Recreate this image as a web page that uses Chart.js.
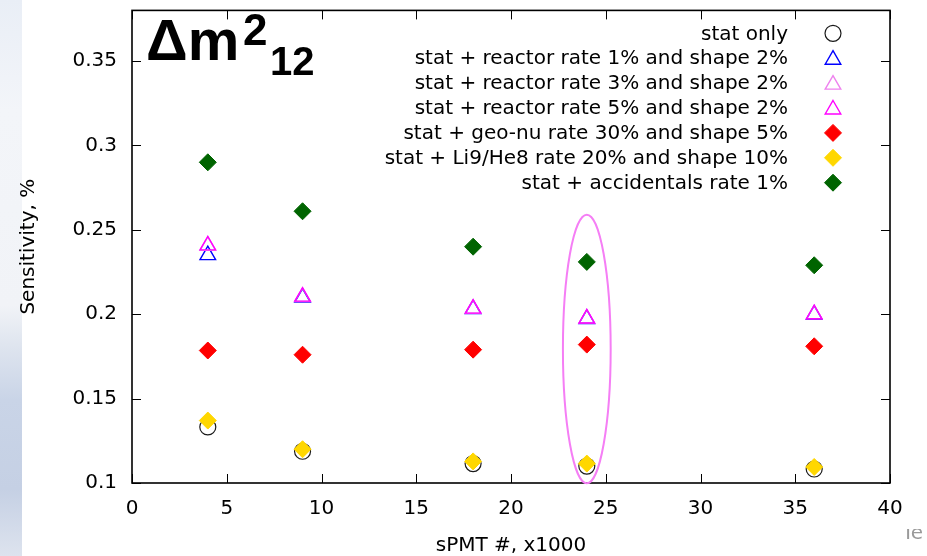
<!DOCTYPE html>
<html><head><meta charset="utf-8">
<script src="https://cdn.jsdelivr.net/npm/chart.js@4/dist/chart.umd.min.js"></script>
<style>
html,body{margin:0;padding:0;background:#fff;}
#wrap{position:relative;width:927px;height:556px;overflow:hidden;background:#fff;}
#strip{position:absolute;left:0;top:0;width:22px;height:556px;
 background:linear-gradient(to bottom,#e9eef6 0%,#f3f5f9 20%,#f1f3f7 55%,#dfe5ef 62%,#c9d4e7 72%,#c5d0e4 88%,#dde3ee 100%);}
#c{position:absolute;left:0;top:0;}
#te{position:absolute;left:902px;top:529px;width:25px;height:16px;overflow:hidden;}
#te span{position:absolute;left:0;top:-9px;font:20px 'DejaVu Sans',sans-serif;color:#9a9a9a;}
</style></head><body>
<div id="wrap"><div id="strip"></div><canvas id="c" width="927" height="556"></canvas><div id="te"><span>Te</span></div></div>
<script>
// ---- data ----
const sPmtThousands = [4, 9, 18, 24, 36];
const statOnly      = [0.1332, 0.1188, 0.1115, 0.1100, 0.1083];
const reactorRate1  = [0.2350, 0.2098, 0.2030, 0.1972, 0.1997];
const reactorRate3  = [0.2405, 0.2102, 0.2032, 0.1974, 0.1999];
const reactorRate5  = [0.2408, 0.2104, 0.2033, 0.1975, 0.2000];
const geoNu         = [0.1785, 0.1760, 0.1790, 0.1820, 0.1810];
const li9He8        = [0.1370, 0.1200, 0.1128, 0.1115, 0.1095];
const accidentals   = [0.2900, 0.2610, 0.2400, 0.2310, 0.2290];

const seriesNames = [
  'stat only',
  'stat + reactor rate 1% and shape 2%',
  'stat + reactor rate 3% and shape 2%',
  'stat + reactor rate 5% and shape 2%',
  'stat + geo-nu rate 30% and shape 5%',
  'stat + Li9/He8 rate 20% and shape 10%',
  'stat + accidentals rate 1%'
];
const xTicks = [0, 5, 10, 15, 20, 25, 30, 35, 40];
const yTicks = [0.1, 0.15, 0.2, 0.25, 0.3, 0.35];
const yTickLabels = ['0.1', '0.15', '0.2', '0.25', '0.3', '0.35'];
const xAxisTitle = 'sPMT #, x1000';
const yAxisTitle = 'Sensitivity, %';
// highlighted group (ellipse around sPMT = 24k)
const highlightX = 24;
const highlightXHalfWidth = 1.26;
const highlightYRange = [0.0998, 0.2590];

// ---- styles ----
const seriesValues = [statOnly, reactorRate1, reactorRate3, reactorRate5, geoNu, li9He8, accidentals];
const seriesColors = ['#1a1a1a', '#0000ff', '#ee82ee', '#ff00ff', '#ff0000', '#ffd700', '#006400'];
const seriesFilled = [false, false, false, false, true, true, true];
const seriesShapes = ['circle', 'triangle', 'triangle', 'triangle', 'rectRot', 'rectRot', 'rectRot'];
const seriesRadius = [8, 9, 9, 9, 8.5, 8.5, 8.5];
const seriesLine   = [1.2, 1.4, 1.4, 1.4, 1, 1, 1];
const FONT = "'DejaVu Sans', sans-serif";

const datasets = seriesValues.map((vals, i) => ({
  label: seriesNames[i],
  data: sPmtThousands.map((x, j) => ({ x: x, y: vals[j] })),
  showLine: false,
  pointStyle: seriesShapes[i],
  pointRadius: seriesRadius[i],
  pointHoverRadius: seriesRadius[i],
  borderColor: seriesColors[i],
  backgroundColor: seriesFilled[i] ? seriesColors[i] : 'rgba(0,0,0,0)',
  borderWidth: seriesLine[i],
  order: seriesValues.length - i
}));

function drawMarker(ctx, i, x, y) {
  ctx.save();
  ctx.strokeStyle = seriesColors[i];
  ctx.fillStyle = seriesFilled[i] ? seriesColors[i] : 'rgba(0,0,0,0)';
  ctx.lineWidth = seriesLine[i];
  Chart.helpers.drawPoint(ctx, { pointStyle: seriesShapes[i], radius: seriesRadius[i], rotation: 0, borderWidth: seriesLine[i] }, x, y);
  ctx.restore();
}

const decor = {
  id: 'decor',
  beforeDatasetsDraw(chart) {
    const { ctx, chartArea: a, scales: { x, y } } = chart;
    ctx.save();
    ctx.strokeStyle = '#000';
    ctx.lineWidth = 1;
    const tl = 9;
    ctx.beginPath();
    xTicks.forEach(v => {
      const px = Math.round(x.getPixelForValue(v)) + 0.5;
      ctx.moveTo(px, a.bottom); ctx.lineTo(px, a.bottom - tl);
      ctx.moveTo(px, a.top); ctx.lineTo(px, a.top + tl);
    });
    yTicks.forEach(v => {
      const py = Math.round(y.getPixelForValue(v)) + 0.5;
      ctx.moveTo(a.left, py); ctx.lineTo(a.left + tl, py);
      ctx.moveTo(a.right, py); ctx.lineTo(a.right - tl, py);
    });
    ctx.stroke();
    ctx.lineWidth = 1.6;
    ctx.strokeRect(a.left, a.top, a.right - a.left, a.bottom - a.top);
    ctx.restore();
  },
  afterDatasetsDraw(chart) {
    const { ctx, scales: { x, y } } = chart;
    ctx.save();
    // ellipse
    const cx = x.getPixelForValue(highlightX);
    const rx = x.getPixelForValue(highlightX + highlightXHalfWidth) - cx;
    const yTop = y.getPixelForValue(highlightYRange[1]);
    const yBot = y.getPixelForValue(highlightYRange[0]);
    ctx.strokeStyle = '#f57ef5';
    ctx.lineWidth = 2;
    ctx.beginPath();
    ctx.ellipse(cx, (yTop + yBot) / 2, rx, (yBot - yTop) / 2, 0, 0, Math.PI * 2);
    ctx.stroke();
    // title  Δm²₁₂
    ctx.fillStyle = '#000';
    ctx.textBaseline = 'alphabetic';
    ctx.textAlign = 'left';
    ctx.font = "bold 58px 'Liberation Sans', Arial, sans-serif";
    ctx.fillText('Δm', 146, 60);
    ctx.font = "bold 44px 'Liberation Sans', Arial, sans-serif";
    ctx.fillText('2', 243, 45);
    ctx.font = "bold 40px 'Liberation Sans', Arial, sans-serif";
    ctx.fillText('12', 270, 75);
    // legend
    ctx.font = '20px ' + FONT;
    ctx.textAlign = 'right';
    ctx.textBaseline = 'middle';
    seriesNames.forEach((name, i) => {
      const ly = 33.3 + i * 24.9;
      ctx.fillStyle = '#000';
      ctx.fillText(name, 788, ly + 1);
      drawMarker(ctx, i, 833, ly + (seriesShapes[i] === 'triangle' ? 1.5 : 0));
    });
    ctx.restore();
  }
};

new Chart(document.getElementById('c'), {
  type: 'scatter',
  data: { datasets: datasets },
  plugins: [decor],
  options: {
    responsive: false,
    animation: false,
    events: [],
    layout: { padding: { top: 10, right: 37, left: 0, bottom: 0 } },
    plugins: { legend: { display: false }, tooltip: { enabled: false } },
    scales: {
      x: {
        type: 'linear', min: 0, max: 40,
        afterBuildTicks: s => { s.ticks = xTicks.map(v => ({ value: v })); },
        afterFit: s => { s.height = 73; s.paddingLeft = 0; s.paddingRight = 0; },
        grid: { display: false, drawTicks: false },
        border: { display: false },
        ticks: { color: '#000', font: { family: FONT, size: 20 }, padding: 14, maxRotation: 0, autoSkip: false,
                 callback: v => String(v) },
        title: { display: true, text: xAxisTitle, color: '#000', font: { family: FONT, size: 20, lineHeight: 1 }, padding: { top: 0, bottom: 0 } }
      },
      y: {
        type: 'linear', min: 0.1, max: 0.38,
        afterBuildTicks: s => { s.ticks = yTicks.map(v => ({ value: v })); },
        afterFit: s => { s.width = 132; s.paddingTop = 0; s.paddingBottom = 0; },
        grid: { display: false, drawTicks: false },
        border: { display: false },
        ticks: { color: '#000', font: { family: FONT, size: 20 }, padding: 15, autoSkip: false,
                 callback: (v, idx) => yTickLabels[idx] },
        title: { display: true, text: yAxisTitle, color: '#000', font: { family: FONT, size: 20, lineHeight: 1 }, padding: { top: 19, bottom: 19 } }
      }
    }
  }
});
</script>
</body></html>
